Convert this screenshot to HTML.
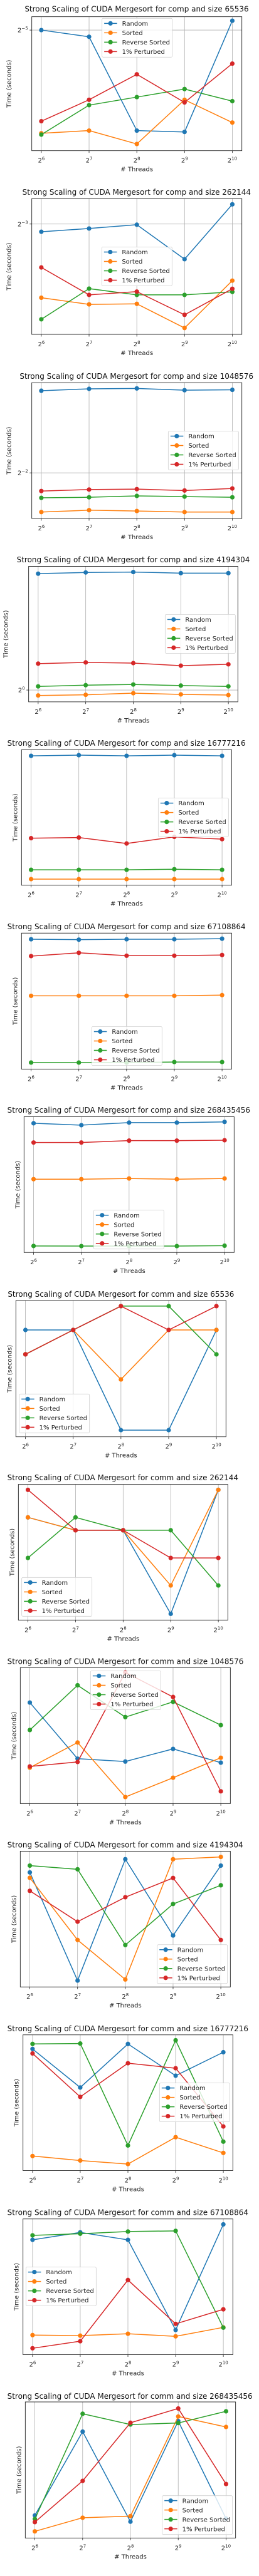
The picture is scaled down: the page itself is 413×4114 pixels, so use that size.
<!DOCTYPE html>
<html><head><meta charset="utf-8">
<style>
html,body{margin:0;padding:0;background:#fff;}
svg{display:block;font-family:"DejaVu Sans","Liberation Sans",sans-serif;}
</style></head>
<body>
<svg id="chart" width="413" height="4114" viewBox="0 0 413 4114" xmlns="http://www.w3.org/2000/svg"></svg>
<script>
// ---- data ----
const threadExps = [6, 7, 8, 9, 10];
const seriesNames = ["Random", "Sorted", "Reverse Sorted", "1% Perturbed"];
const seriesColors = ["#1f77b4", "#ff7f0e", "#2ca02c", "#d62728"];
const titles = [
 "Strong Scaling of CUDA Mergesort for comp and size 65536",
 "Strong Scaling of CUDA Mergesort for comp and size 262144",
 "Strong Scaling of CUDA Mergesort for comp and size 1048576",
 "Strong Scaling of CUDA Mergesort for comp and size 4194304",
 "Strong Scaling of CUDA Mergesort for comp and size 16777216",
 "Strong Scaling of CUDA Mergesort for comp and size 67108864",
 "Strong Scaling of CUDA Mergesort for comp and size 268435456",
 "Strong Scaling of CUDA Mergesort for comm and size 65536",
 "Strong Scaling of CUDA Mergesort for comm and size 262144",
 "Strong Scaling of CUDA Mergesort for comm and size 1048576",
 "Strong Scaling of CUDA Mergesort for comm and size 4194304",
 "Strong Scaling of CUDA Mergesort for comm and size 16777216",
 "Strong Scaling of CUDA Mergesort for comm and size 67108864",
 "Strong Scaling of CUDA Mergesort for comm and size 268435456"
];
// values as relative position (0-100) on each panel's log time axis
const randomVals = [
 [90,85,15,14,97],[75.6,78,80.8,55.4,95.8],[94.1,95.5,95.8,94.5,94.8],[94.6,95.5,95.8,95,95],
 [95.5,96,95.5,96,95.5],[95.5,95.2,95.5,95.5,95.9],[95.2,93.8,95.7,95.7,96.2],
 [78.4,78.4,4.9,4.9,78.4],[75.7,66.2,66.2,4.6,96],[74.3,33,30.9,40.2,30.1],
 [84.4,4.7,94.1,37.9,89.4],[89.6,61.2,93.3,69.9,87.2],[84.6,90.1,84.6,18.2,96],[16.6,78.2,12,85.9,14.3]
];
const sortedVals = [
 [13,15,5,38,21],[27,22.1,22.5,4.7,39.6],[4.7,6.1,5.5,4.7,4.7],[4.7,5.2,6.4,5.5,5],
 [4.5,4.5,4.5,4.5,4.5],[53.9,53.9,53.9,53.9,54.4],[54,54,54.5,54,54.5],
 [60.6,78.4,42.1,78.4,78.4],[75.7,66.2,66.2,25.5,96],[26.4,44.9,4.8,19,33.7],
 [80.4,34.6,5.5,94.1,95.8],[10.7,7.4,4.8,24.6,13],[14.4,14,15.4,13.5,20.1],[4.9,14.9,16.1,89.3,81.6]
];
const reverseVals = [
 [12,34,40,46,37],[11.1,33.7,29.1,29.1,31.3],[15.2,15.6,16.6,16.1,15.6],[11.4,12.3,12.8,12,11.4],
 [11.4,11.4,11.4,11.8,11.4],[4.8,4.8,4.8,5.2,5.2],[4.8,4.7,4.7,4.7,5],
 [60.5,78.4,95.9,95.9,60.5],[45.8,75.7,66.2,66.2,25.5],[54.1,87,63.6,74.8,57.7],
 [89.4,86.7,30.9,61.1,74.9],[93.3,93.6,18.5,96,21.3],[87.9,89.1,90.7,91.2,19.9],[14,91.3,83.4,84.5,93.1]
];
const perturbedVals = [
 [22,38,57,36,65],[49.3,29.1,31.5,14.4,33.6],[20.2,21.3,21.6,20.6,22.1],[28.2,29.1,28.6,26.7,27.7],
 [34.7,35.2,30.8,35.7,34],[83.1,85.5,83.4,83.4,83.9],[81,81,82.4,82.4,82.7],
 [60.5,78.4,95.9,78.4,95.9],[96,66.2,66.2,45.8,45.8],[27.3,30.6,96.5,78.4,9],
 [70.8,48.1,66.1,80.3,34.6],[86.3,54.3,79.1,75.4,32.5],[4.7,9.9,55,22.7,33.4],[11.7,42,84.7,95.2,39.7]
];
const yTickPos = [90, 81.3, 33.6, 8.7, null,null,null,null,null,null,null,null,null,null];
const yTickExp = ["−5","−3","−2","0", null,null,null,null,null,null,null,null,null,null];

// ---- layout (x in 3x units; y in crop units with scale ys) ----
const layout = [
 {cy:0,ys:3,T:80,B:722,L:152,R:1157,tx:[118,1190],ty:42,lg:[488,88]},
 {cy:294,ys:2.6667,T:62,B:640,L:152,R:1157,tx:[107,1200],ty:34,lg:[487,268]},
 {cy:294,ys:2.6667,T:846,B:1424,L:152,R:1157,tx:[94,1212],ty:818,lg:[805,1052]},
 {cy:882,ys:2.6667,T:60,B:637,L:137,R:1138,tx:[80,1195],ty:31,lg:[790,265]},
 {cy:882,ys:2.6667,T:841,B:1418,L:103,R:1108,tx:[35,1175],ty:812,lg:[757,1047]},
 {cy:1470,ys:2.6667,T:54,B:633,L:103,R:1108,tx:[35,1175],ty:25,lg:[439,452]},
 {cy:1470,ys:2.6667,T:836,B:1414,L:115,R:1120,tx:[35,1197],ty:807,lg:[448,1234]},
 {cy:2058,ys:3,T:57,B:710,L:76,R:1081,tx:[37,1120],ty:25,lg:[92,505]},
 {cy:2350,ys:3,T:62,B:712,L:88,R:1090,tx:[35,1140],ty:28,lg:[104,508]},
 {cy:2646,ys:2.6667,T:46,B:625,L:97,R:1102,tx:[35,1165],ty:18,lg:[433,60]},
 {cy:2646,ys:2.6667,T:828,B:1406,L:97,R:1102,tx:[35,1163],ty:800,lg:[752,1226]},
 {cy:3234,ys:2.6667,T:42,B:620,L:110,R:1114,tx:[35,1188],ty:14,lg:[763,247]},
 {cy:3234,ys:2.6667,T:826,B:1404,L:110,R:1114,tx:[35,1188],ty:797,lg:[124,1031]},
 {cy:3822,ys:3,T:42,B:694,L:121,R:1127,tx:[35,1208],ty:14,lg:[776,491]}
];

const NS = "http://www.w3.org/2000/svg";
const svg = document.getElementById("chart");
function mk(tag, attrs, parent){
  const e = document.createElementNS(NS, tag);
  for (const k in attrs) e.setAttribute(k, attrs[k]);
  (parent||svg).appendChild(e);
  return e;
}

layout.forEach((p, pi) => {
  const Y = z => p.cy + z/p.ys;
  const L = p.L/3, R = p.R/3, T = Y(p.T), B = Y(p.B);
  const W = R - L, H = B - T;
  const xScale = e => L + W*(0.2 + (e - 6))/4.4;
  const yScale = v => B - v/100*H;
  const series = [randomVals[pi], sortedVals[pi], reverseVals[pi], perturbedVals[pi]];

  const g = mk("g", {});
  
  

  const tx0 = p.tx[0]/3, tx1 = p.tx[1]/3;
  const title = mk("text", {x:(tx0+tx1)/2, y:Y(p.ty)+4.5, "text-anchor":"middle", "font-size":"12", fill:"#111", textLength:(tx1-tx0), lengthAdjust:"spacingAndGlyphs"}, g);
  title.textContent = titles[pi];
  
  

  threadExps.forEach(e => {
    const gl = mk("line", {x1:xScale(e), x2:xScale(e), y1:T, y2:B, stroke:"#b0b0b0", "stroke-width":"0.8"}, g);
    
    
    const tl = mk("text", {x:xScale(e), y:B+19, "text-anchor":"middle", "font-size":"10", fill:"#222"}, g);
    
    
    tl.appendChild(document.createTextNode("2"));
    const sup = mk("tspan", {"font-size":"7", dy:"-4"}, tl);
    sup.textContent = String(e);
    mk("line", {x1:xScale(e), x2:xScale(e), y1:B, y2:B+3.5, stroke:"#222", "stroke-width":"0.8"}, g);
  });
  if (yTickPos[pi] !== null) {
    const yy = yScale(yTickPos[pi]);
    const gl = mk("line", {x1:L, x2:R, y1:yy, y2:yy, stroke:"#b0b0b0", "stroke-width":"0.8"}, g);
    
    
    mk("line", {x1:L-3.5, x2:L, y1:yy, y2:yy, stroke:"#222", "stroke-width":"0.8"}, g);
    const tl = mk("text", {x:L-6, y:yy+3.5, "text-anchor":"end", "font-size":"10", fill:"#222"}, g);
    
    
    tl.appendChild(document.createTextNode("2"));
    const sup = mk("tspan", {"font-size":"7", dy:"-4"}, tl);
    sup.textContent = yTickExp[pi];
  }
  series.forEach((vals, si) => {
    const pts = vals.map((v, i) => xScale(threadExps[i]) + "," + yScale(v)).join(" ");
    const line = mk("polyline", {points:pts, fill:"none", stroke:seriesColors[si], "stroke-width":"1.5"}, g);
    
    
    vals.forEach((v, i) => {
      const c = mk("circle", {cx:xScale(threadExps[i]), cy:yScale(v), r:"3.6", fill:seriesColors[si]}, g);
      
      
    });
  });
  const fr = mk("rect", {x:L, y:T, width:W, height:H, fill:"none", stroke:"#222", "stroke-width":"0.9"}, g);
  
  

  const xl = mk("text", {x:L+W/2, y:B+33, "text-anchor":"middle", "font-size":"10", fill:"#222"}, g);
  xl.textContent = "# Threads";
  
  
  const ylx = (yTickPos[pi] !== null) ? L - 33 : L - 7;
  const yl = mk("text", {x:ylx, y:T+H/2, "text-anchor":"middle", "font-size":"10", fill:"#222", transform:`rotate(-90 ${ylx} ${T+H/2})`}, g);
  yl.textContent = "Time (seconds)";
  
  

  const lx = p.lg[0]/3, ly = Y(p.lg[1]), sp = 15;
  const lgG = mk("g", {}, g);
  
  
  mk("rect", {x:lx, y:ly, width:112, height:62, rx:"2", fill:"rgba(255,255,255,0.8)", stroke:"#d0d0d0", "stroke-width":"0.8"}, lgG);
  seriesNames.forEach((n, si) => {
    const ry = ly + 8 + si*sp;
    const ent = mk("g", {}, lgG);
    
    
    mk("line", {x1:lx+3.5, x2:lx+24, y1:ry, y2:ry, stroke:seriesColors[si], "stroke-width":"1.5"}, ent);
    mk("circle", {cx:lx+13.5, cy:ry, r:"3.6", fill:seriesColors[si]}, ent);
    const t = mk("text", {x:lx+32, y:ry+3.6, "font-size":"10", fill:"#222"}, ent);
    t.textContent = n;
  });
});
</script>
</body></html>
